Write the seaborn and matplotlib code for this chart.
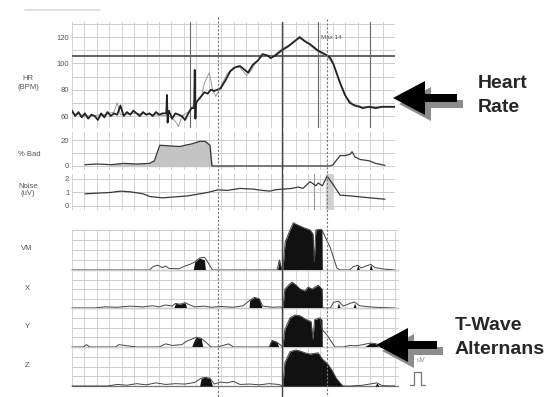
import numpy as np
import seaborn as sns
import matplotlib.pyplot as plt
from matplotlib.patches import FancyArrow

sns.set_style("white")
plt.rcParams['font.family'] = ['Liberation Sans', 'DejaVu Sans']

# ---- données (temps 0-100) ----
hr_t = [0, 1, 2, 3, 4, 5, 6, 7, 8, 9, 10, 11, 12, 13, 14, 15, 16, 17, 18, 19, 20,
        21, 22, 23, 24, 25, 26, 27, 28, 29.2, 29.4, 29.6, 29.8, 30, 31, 32, 33, 34,
        35, 36, 37, 37.8, 38, 38.2, 38.4, 39, 40, 41, 42, 43, 44, 45, 46, 47.5, 49,
        50.5, 52, 53, 54.5, 56, 57.5, 59, 60.5, 61.5, 63, 65, 67, 69, 70.5, 72, 74,
        76, 77.5, 79, 80, 81, 82, 83, 84.5, 86, 87.5, 89, 90, 92, 94, 96, 98, 100]
hr_v = [64, 60, 63, 59, 62, 58, 61, 60, 57, 62, 59, 63, 60, 62, 61, 68, 60, 63, 61,
        64, 62, 60, 63, 61, 62, 60, 63, 61, 62, 62, 76, 55, 62, 64, 58, 62, 61, 60,
        57, 62, 66, 66, 95, 58, 70, 72, 75, 78, 77, 80, 79, 80, 81, 87, 94,
        97, 98, 96, 93, 99, 102, 107, 106, 104, 106, 110, 113, 117, 120, 117, 114,
        110, 108, 106, 104, 99, 92, 85, 76, 70, 68, 67, 66, 67, 66, 67, 67, 67]

hr2_t = [0, 5, 10, 13, 14, 15, 20, 25, 30, 32, 33, 34, 36, 38, 40, 41, 42.5, 43.5,
         44.5, 46, 48, 50, 52, 54, 55, 57, 59, 62, 65, 68, 70.5, 73, 76, 79, 81,
         83, 85, 87, 90, 95, 100]
hr2_v = [62, 60, 61, 63, 70, 61, 62, 61, 60, 56, 52, 60, 63, 70, 74, 85, 93, 80,
         75, 82, 92, 97, 97, 91, 93, 101, 106, 105, 111, 115, 119, 115, 109, 105,
         99, 86, 74, 69, 67, 67, 67]

hr_events = [36.5, 76.2, 92.3]
hr_limit = 105.5

bad_t = [4, 8, 12, 16, 20, 24, 25.5, 26.6, 27.2, 30, 33.4, 35, 37, 39.6, 41.2,
         42.7, 43.3, 50, 60, 70, 80, 80.8, 83, 84.5, 86.1, 86.7, 87.6, 89.2, 92,
         94, 96.9]
bad_v = [1, 1.5, 1, 2, 1.5, 2, 4, 12, 16, 15.5, 15, 16, 17, 19, 19, 16, 0, 0, 0,
         0, 0, 1, 8, 8, 9, 11, 7, 5, 4, 2, 0.5]

noise_t = [4, 8, 12, 14.9, 18, 22, 24.1, 28, 33.4, 36, 39.6, 42, 45.2, 48, 52, 56,
           59, 61.3, 63, 65.3, 68, 70, 71.5, 73.7, 75.5, 76.2, 77.5, 79, 80.8, 83,
           86, 88, 92.3, 96.9]
noise_v = [0.9, 0.95, 1.0, 1.1, 1.05, 0.9, 0.7, 0.6, 0.7, 0.75, 0.9, 1.0, 1.2, 1.15,
           1.3, 1.25, 1.15, 1.1, 1.2, 1.25, 1.3, 1.4, 1.3, 1.8, 1.5, 1.7, 1.5, 2.2,
           1.6, 0.8, 0.75, 0.7, 0.6, 0.5]

vm_t = [0, 24, 25, 26.5, 28, 29, 30, 33, 35, 36.5, 38, 39.5, 41, 42, 43.5, 63.5,
        64.2, 65, 65.3, 66, 67.5, 68.5, 70, 72, 73.7, 74.6, 75, 75.5, 77, 77.4, 80,
        82, 83, 86, 87, 88.5, 89.5, 91, 92.5, 93.8, 96.9, 100]
vm_v = [0, 0, 8, 12, 6, 10, 4, 3, 10, 14, 20, 30, 32, 20, 0, 0,
        25, 0, 0, 70, 100, 118, 112, 105, 100, 90, 20, 100, 102, 100, 55,
        5, 0, 0, 8, 12, 5, 10, 14, 6, 2, 0]
vm_fill_t = [37.5, 38, 39.5, 41, 41.3, 63.6, 64.2, 64.9, 65.3, 66, 67.5, 68.5, 70,
             72, 73.7, 74.6, 75, 75.5, 77, 77.4, 77.5, 88, 88.5, 89, 92, 92.5, 93]
vm_fill_v = [0, 20, 30, 25, 0, 0, 25, 0, 0, 70, 100, 118, 112,
             105, 100, 90, 20, 100, 102, 100, 0, 0, 12, 0, 0, 14, 0]

x_t = [0, 7, 10, 14, 18, 22, 25, 27, 29, 31, 32, 33.5, 35, 36.5, 38, 41, 43, 46,
       50, 53, 55, 56.5, 58, 59, 62, 64.5, 65.3, 65.9, 67, 68.1, 69.4, 70.6, 72.1,
       73.1, 74.3, 76.2, 77.4, 77.6, 80, 81, 82.5, 84, 86, 87.5, 89, 92, 96, 100]
x_v = [0, 0, 3, 2, 5, 3, 6, 3, 8, 5, 12, 10, 14, 8, 3, 5, 2, 4,
       2, 6, 20, 28, 24, 5, 2, 3, 0, 50, 60, 68, 60, 50, 45,
       55, 50, 60, 50, 0, 0, 15, 18, 5, 12, 16, 6, 3, 1, 0]
x_fill_t = [31.5, 32, 33.5, 35, 35.5, 54.8, 55, 56.5, 58, 58.8, 65.3, 65.9, 67,
            68.1, 69.4, 70.6, 72.1, 73.1, 74.3, 76.2, 77.4, 77.6, 82, 82.5, 83,
            87, 87.5, 88]
x_fill_v = [0, 12, 10, 14, 0, 0, 20, 28, 24, 0, 0, 50, 60,
            68, 60, 50, 45, 55, 50, 60, 50, 0, 0, 14, 0,
            0, 13, 0]

y_t = [0, 3.5, 4.5, 5.5, 10, 13.5, 14.5, 20, 27, 29, 31, 34, 35.5, 37, 38.5,
       40, 41.5, 43, 45, 48.5, 50, 61, 62, 63.5, 65.3, 65.9, 67.5, 69, 70.6, 72.1,
       74, 74.6, 75.1, 76.8, 77.4, 79, 81.4, 84, 86, 88, 90, 92.3, 93.8, 96, 100]
y_v = [0, 0, 6, 0, 0, 0, 6, 0, 0, 8, 4, 6, 15, 20, 25, 22, 12, 0, 0, 8, 0, 0,
       17, 12, 0, 45, 75, 82, 80, 72, 65, 20, 70, 75, 45, 30, 0, 0, 4, 3, 6, 10,
       9, 3, 0]
y_fill_t = [37, 38, 38.5, 40, 40.5, 61, 61.5, 62, 63.5, 64, 65.3, 65.9, 67.5, 69,
            70.6, 72.1, 74, 74.6, 75.1, 76.8, 77.4, 77.5, 90.5, 92.3, 93.8, 95]
y_fill_v = [0, 20, 25, 22, 0, 0, 15, 17, 12, 0, 0, 45, 75, 82,
            80, 72, 65, 20, 70, 75, 70, 0, 0, 10, 9, 0]

z_t = [0, 11, 14, 17, 20, 23, 26, 29, 32, 35, 38, 40, 41.2, 42.7, 44, 46, 48, 50,
       52, 55, 58, 61, 64, 65.3, 65.9, 67.5, 69, 70.6, 72.1, 73.7, 76.2, 77.4,
       79.3, 80.5, 81.8, 83.3, 83.9, 86, 90, 94.4, 96, 100]
z_v = [0, 0, 4, 2, 6, 3, 8, 4, 6, 5, 9, 20, 22, 20, 5, 10, 8, 12, 4, 5, 3, 6, 4,
       0, 60, 88, 92, 90, 85, 82, 85, 70, 55, 40, 20, 5, 0, 0, 2, 8, 1, 0]
z_fill_t = [39.5, 40, 41.2, 42.7, 43.5, 65.3, 65.9, 67.5, 69, 70.6, 72.1, 73.7,
            76.2, 77.4, 79.3, 80.5, 81.8, 83.3, 83.9, 93.8, 94.4, 95]
z_fill_v = [0, 20, 22, 20, 0, 0, 60, 88, 92, 90, 85, 82,
            85, 70, 55, 40, 20, 5, 0, 0, 8, 0]

# ---- figure en pixels ----
W, H = 553, 397
fig = plt.figure(figsize=(W / 100, H / 100), dpi=100)
X0, X1 = 72, 395

def px_axes(left, top, right, bottom, z=1):
    return fig.add_axes([left / W, 1 - bottom / H, (right - left) / W, (bottom - top) / H], zorder=z)

grid_x = np.linspace(0, 100, 27)
GRID = "#cdcdcd"
INK = "#3a3a3a"
TXT = "#555555"

def style(ax, ylim, yticks, hlines, ticklabels=True):
    ax.set_xlim(0, 100)
    ax.set_ylim(*ylim)
    for s in ax.spines.values():
        s.set_visible(False)
    for gx in grid_x:
        ax.axvline(gx, color=GRID, lw=0.6, zorder=0)
    for hy in hlines:
        ax.axhline(hy, color=GRID, lw=0.7, zorder=0)
    ax.set_xticks([])
    ax.set_yticks(yticks if ticklabels else [])
    ax.tick_params(axis="y", length=0, pad=2, labelsize=5.5, labelcolor=TXT)
    ax.patch.set_alpha(0)

# HR
ax_hr = px_axes(X0, 22, X1, 128)
style(ax_hr, (50.9, 131.4), [60, 80, 100, 120], range(60, 131, 10))
ax_hr.axhline(hr_limit, color="#555555", lw=1.3, zorder=1)
for ev in hr_events:
    ax_hr.axvline(ev, color="#666666", lw=0.8, zorder=1)
sns.lineplot(x=hr2_t, y=hr2_v, ax=ax_hr, color="#9a9a9a", lw=0.7, estimator=None, sort=False)
sns.lineplot(x=hr_t, y=hr_v, ax=ax_hr, color="#222222", lw=1.3, estimator=None, sort=False)
ax_hr.text(77.2, 120, "Max 14", fontsize=4.5, color=TXT, va="center")
ax_hr.set_xlabel(""); ax_hr.set_ylabel("")

# % Bad
ax_bad = px_axes(X0, 132, X1, 170)
style(ax_bad, (-3.1, 26.2), [0, 20], [0, 10, 20])
ax_bad.fill_between(bad_t, 0, bad_v, where=[10 < t < 45 for t in bad_t],
                    color="#c4c4c4", zorder=1, interpolate=True)
sns.lineplot(x=bad_t, y=bad_v, ax=ax_bad, color=INK, lw=0.9, estimator=None, sort=False)
ax_bad.set_xlabel(""); ax_bad.set_ylabel("")

# Noise
ax_no = px_axes(X0, 174, X1, 210)
style(ax_no, (-0.3, 2.37), [0, 1, 2], [0, 1, 2])
ax_no.axvspan(78.5, 80.5, color="#d0d0d0", zorder=0)
ax_no.axvline(74.8, color="#999999", lw=0.8, zorder=0)
sns.lineplot(x=noise_t, y=noise_v, ax=ax_no, color=INK, lw=0.9, estimator=None, sort=False)
ax_no.set_xlabel(""); ax_no.set_ylabel("")

# VM, X, Y, Z
panels = [("VM", vm_t, vm_v, vm_fill_t, vm_fill_v, 230, 270),
          ("X", x_t, x_v, x_fill_t, x_fill_v, 270, 308),
          ("Y", y_t, y_v, y_fill_t, y_fill_v, 308, 347),
          ("Z", z_t, z_v, z_fill_t, z_fill_v, 347, 386)]
for name, tt, vv, ft, fv, top, bot in panels:
    ax = px_axes(X0, top, X1 + 3, bot)
    style(ax, (0, 100), [], [0, 25, 50, 75, 100], ticklabels=False)
    ax.set_xlim(0, 100 * (X1 + 3 - X0) / (X1 - X0))
    ax.axhline(0, color="#777777", lw=0.9, zorder=1)
    ax.fill_between(ft, 0, fv, color="#111111", lw=0, zorder=2)
    sns.lineplot(x=tt, y=vv, ax=ax, color="#444444", lw=0.7, estimator=None, sort=False, zorder=3)
    for line in ax.lines:
        line.set_clip_on(False)
    ax.collections[-1].set_clip_on(False)
    ax.set_xlabel(""); ax.set_ylabel("")
    fig.text(27 / W, 1 - ((top + bot) / 2 - 1) / H, name, fontsize=5.5, color=TXT,
             ha="center", va="center")

# lignes d'événements sur toute la hauteur
ov_t = px_axes(X0, 0, X1, H, z=5)
ov_t.set_xlim(0, 100); ov_t.set_ylim(H, 0); ov_t.axis("off")
ov_t.plot([65, 65], [22, 397], color="#444444", lw=1.0)
ov_t.plot([45.2, 45.2], [17, 397], color="#777777", lw=0.8, ls=(0, (2, 1.5)))
ov_t.plot([79, 79], [19, 397], color="#777777", lw=0.8, ls=(0, (2, 1.5)))

# étiquettes et flèches
ov = fig.add_axes([0, 0, 1, 1], zorder=10)
ov.set_xlim(0, W); ov.set_ylim(H, 0); ov.axis("off")
ov.plot([25, 100], [10, 10], color="#dddddd", lw=1.2)
ov.text(28, 83, "HR\n(BPM)", fontsize=5.5, color=TXT, ha="center", va="center", linespacing=1.3)
ov.text(29, 155, "% Bad", fontsize=5.5, color=TXT, ha="center", va="center")
ov.text(28, 190, "Noise\n(uV)", fontsize=5.5, color=TXT, ha="center", va="center", linespacing=1.1)

for (tip_x, tip_y, tail_x) in [(393, 98, 457), (376, 345, 437)]:
    ov.add_patch(FancyArrow(tail_x + 6, tip_y + 6, tip_x - tail_x, 0, width=8,
                            head_width=34, head_length=32, length_includes_head=True,
                            color="#8c8c8c", lw=0))
    ov.add_patch(FancyArrow(tail_x, tip_y, tip_x - tail_x, 0, width=8,
                            head_width=34, head_length=32, length_includes_head=True,
                            color="black", lw=0))

ov.text(478, 84, "Heart", fontsize=14, fontweight="bold", va="center", ha="left")
ov.text(478, 107, "Rate", fontsize=14, fontweight="bold", va="center", ha="left")
ov.text(455, 326, "T-Wave", fontsize=14, fontweight="bold", va="center", ha="left")
ov.text(455, 350, "Alternans", fontsize=14, fontweight="bold", va="center", ha="left")

ov.text(421, 361, "uV", fontsize=5, color="#888888", ha="center", va="center", zorder=20)
ov.plot([410, 414, 414, 421, 421, 425], [385, 385, 372, 372, 385, 385], color="#777777", lw=0.9)

plt.savefig("out.png", dpi=100)
